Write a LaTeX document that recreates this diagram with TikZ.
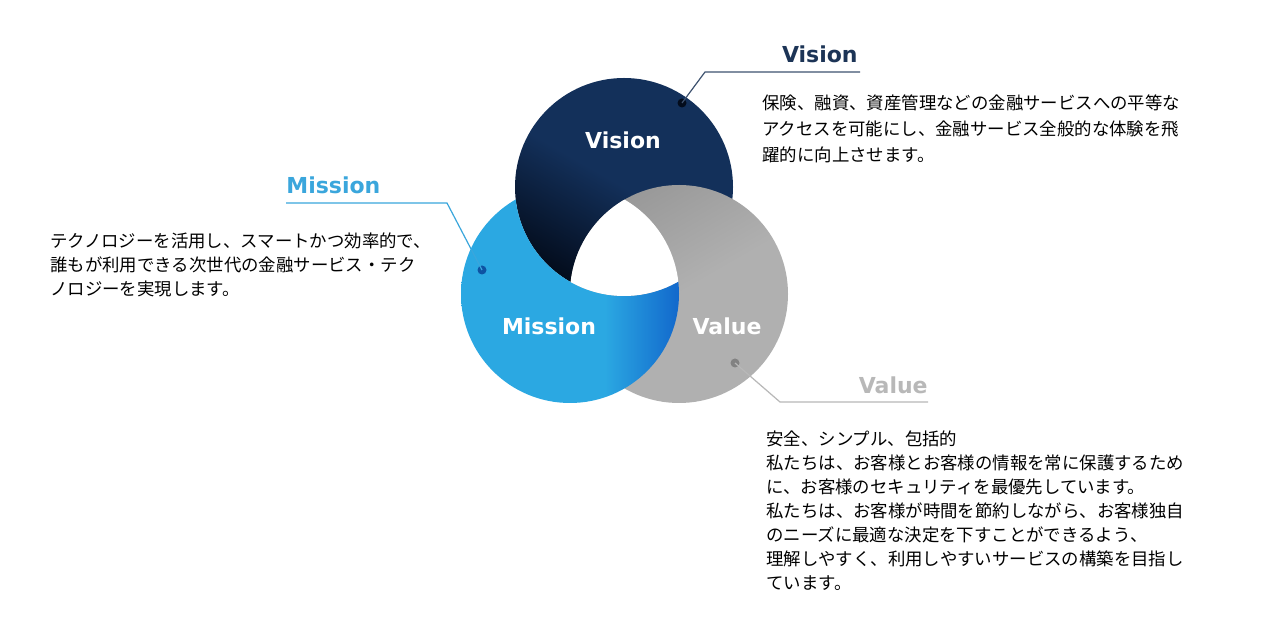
\documentclass[tikz,border=0pt]{standalone}
\usepackage{fontspec}
\setmainfont{DejaVu Sans}
\newfontfamily\jpfont{Noto Sans CJK JP}
\usepackage{xcolor}
\usetikzlibrary{positioning}

\definecolor{visnavy}{HTML}{13305A}
\definecolor{visdark}{HTML}{030C1C}
\definecolor{misblue}{HTML}{2BA8E2}
\definecolor{misdark}{HTML}{1268CC}
\definecolor{valgrey}{HTML}{B0B0B0}
\definecolor{valdark}{HTML}{999999}
\definecolor{vistitle}{HTML}{1C3456}
\definecolor{mistitle}{HTML}{3AA6DC}
\definecolor{valtitle}{HTML}{B8B8B8}

\pgfdeclarehorizontalshading{visshade}{100bp}{color(0bp)=(visnavy); color(25bp)=(visnavy); color(50bp)=(visnavy); color(75bp)=(visdark); color(100bp)=(visdark)}
\pgfdeclarehorizontalshading{misshade}{100bp}{color(0bp)=(misblue); color(25bp)=(misblue); color(58bp)=(misblue); color(75bp)=(misdark); color(100bp)=(misdark)}
\pgfdeclarehorizontalshading{valshade}{100bp}{color(0bp)=(valgrey); color(25bp)=(valgrey); color(50bp)=(valgrey); color(75bp)=(valdark); color(100bp)=(valdark)}

\begin{document}
\begin{tikzpicture}[
    x=0.5pt, y=-0.5pt,
    inlabel/.style={text=white, font=\fontsize{11}{13}\selectfont\bfseries, inner sep=0pt},
    title/.style={font=\fontsize{11}{13}\selectfont\bfseries, inner sep=0pt},
    body/.style={align=left, inner sep=0pt, font=\jpfont\fontsize{8.7}{12}\selectfont},
    dot/.style={circle, inner sep=0pt, minimum size=4.5pt},
    leader/.style={line width=0.6pt}
]
\useasboundingbox[fill=white] (0,0) rectangle (1270,635);

\coordinate (visc) at (624,187);
\coordinate (misc) at (570,294);
\coordinate (valc) at (679,294);

% three discs, woven: Vision under Value, Value under Mission, Mission under Vision
\shade[shading=visshade, shading angle=240] (visc) circle[radius=109];
\shade[shading=valshade, shading angle=120] (valc) circle[radius=109];
\begin{scope}[even odd rule]
  \clip (0,0) rectangle (1270,635) (visc) circle[radius=109];
  \shade[shading=misshade, shading angle=0] (misc) circle[radius=109];
\end{scope}
% white centre
\begin{scope}
  \clip (visc) circle[radius=109];
  \clip (misc) circle[radius=109];
  \fill[white] (valc) circle[radius=109];
\end{scope}

\node[inlabel] (vislabel) at (623,140) {Vision};
\node[inlabel] (mislabel) at (549,326) {Mission};
\node[inlabel] (vallabel) at (727,326) {Value};

% Vision callout
\node[dot, fill=visdark] (visdot) at (682,103) {};
\coordinate (visbend) at (705,72);
\coordinate (visend) at (860,72);
\draw[leader, draw=vistitle!85] (visdot.center) -- (visbend) -- (visend);
\node[title, text=vistitle, anchor=base east] (vistitle) at (858,63) {Vision};
\node[body, anchor=north west] (vistext) at (762,94) {保険、融資、資産管理などの金融サービスへの平等な\\[1pt]アクセスを可能にし、金融サービス全般的な体験を飛\\[1pt]躍的に向上させます。};

% Mission callout
\node[dot, fill=misdark!80!black] (misdot) at (482,270) {};
\coordinate (misbend) at (447,203);
\coordinate (misend) at (286,203);
\draw[leader, draw=mistitle] (misdot.center) -- (misbend) -- (misend);
\node[title, text=mistitle, anchor=base west] (mistitle) at (286,194) {Mission};
\node[body, anchor=north west] (mistext) at (50,232) {テクノロジーを活用し、スマートかつ効率的で、\\誰もが利用できる次世代の金融サービス・テク\\ノロジーを実現します。};

% Value callout
\node[dot, fill=valdark!85!black] (valdot) at (735,363) {};
\coordinate (valbend) at (780,402);
\coordinate (valend) at (928,402);
\draw[leader, draw=valtitle] (valdot.center) -- (valbend) -- (valend);
\node[title, text=valtitle, anchor=base east] (valtitle) at (928,394) {Value};
\node[body, anchor=north west] (valtext) at (766,430) {安全、シンプル、包括的\\私たちは、お客様とお客様の情報を常に保護するため\\に、お客様のセキュリティを最優先しています。\\私たちは、お客様が時間を節約しながら、お客様独自\\のニーズに最適な決定を下すことができるよう、\\理解しやすく、利用しやすいサービスの構築を目指し\\ています。};

\end{tikzpicture}
\end{document}
